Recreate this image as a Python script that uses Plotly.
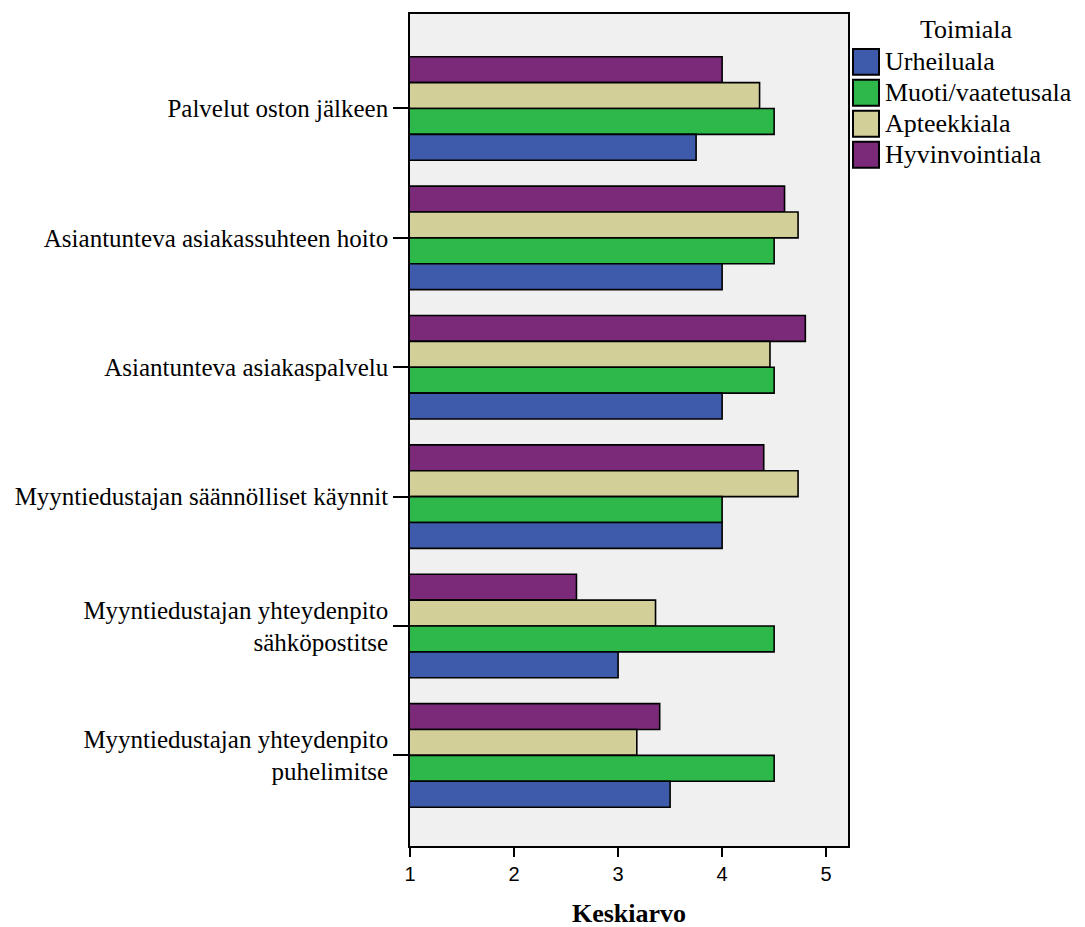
import plotly.graph_objects as go

categories = [
    "Palvelut oston jälkeen",
    "Asiantunteva asiakassuhteen hoito",
    "Asiantunteva asiakaspalvelu",
    "Myyntiedustajan säännölliset käynnit",
    "Myyntiedustajan yhteydenpito<br>sähköpostitse",
    "Myyntiedustajan yhteydenpito<br>puhelimitse",
]
urheiluala = [3.75, 4.0, 4.0, 4.0, 3.0, 3.5]
muoti = [4.5, 4.5, 4.5, 4.0, 4.5, 4.5]
apteekkiala = [4.36, 4.73, 4.46, 4.73, 3.36, 3.18]
hyvinvointiala = [4.0, 4.6, 4.8, 4.4, 2.6, 3.4]
x_ticks = [1, 2, 3, 4, 5]
legend_title = "Toimiala"

# drawn top-to-bottom within a group: Hyvinvointiala ... Urheiluala
series = [
    ("Hyvinvointiala", hyvinvointiala, "#7B2A7A"),
    ("Apteekkiala", apteekkiala, "#D3CF98"),
    ("Muoti/vaatetusala", muoti, "#2EB84A"),
    ("Urheiluala", urheiluala, "#3E5BAB"),
]

SERIF = "Liberation Serif"
# the page body has an 8px default margin; compensate so the plot area
# lands at x 410..848, y 12..846 in the screenshot
OFF = 8
W, H = 1085, 927
PX0, PX1, PY0, PY1 = 410, 848, 12, 846


def px(x):
    return (x - PX0) / (PX1 - PX0)


def py(y):
    return (PY1 - y) / (PY1 - PY0)


fig = go.Figure()
for name, vals, col in series:
    fig.add_trace(go.Bar(
        y=categories, x=vals, name=name, orientation="h",
        marker=dict(color=col, line=dict(color="black", width=1.6)),
    ))

# manual legend (large swatches like the original)
shapes = []
annotations = []
legend_items = list(reversed(series))
for i, (name, vals, col) in enumerate(legend_items):
    cy = 60 + 31 * i
    shapes.append(dict(
        type="rect", xref="paper", yref="paper",
        x0=px(853), x1=px(879), y0=py(cy - 13), y1=py(cy + 13),
        fillcolor=col, line=dict(color="black", width=2),
    ))
    annotations.append(dict(
        xref="paper", yref="paper", x=px(883), y=py(cy),
        xanchor="left", yanchor="middle", text=name, showarrow=False,
        font=dict(family=SERIF, size=26, color="black"),
    ))
annotations.append(dict(
    xref="paper", yref="paper", x=px(966), y=py(28),
    xanchor="center", yanchor="middle", text=legend_title, showarrow=False,
    font=dict(family=SERIF, size=26, color="black"),
))

fig.update_layout(
    width=W, height=H,
    barmode="group", bargap=0.2, bargroupgap=0,
    paper_bgcolor="white", plot_bgcolor="#F0F0F0",
    margin=dict(l=PX0 - OFF, r=W - PX1 + OFF, t=PY0 - OFF, b=H - PY1 + OFF),
    font=dict(family=SERIF, size=25, color="black"),
    showlegend=False,
    shapes=shapes,
    annotations=annotations,
)
fig.update_xaxes(
    range=[1, 5.21], tickvals=x_ticks, ticks="outside", ticklen=9, tickwidth=2,
    tickcolor="black", showline=True, linecolor="black", linewidth=1.6, mirror=True,
    showgrid=False, zeroline=False,
    tickfont=dict(family="Liberation Sans", size=20),
    title=dict(text="<b>Keskiarvo</b>", font=dict(family=SERIF, size=26), standoff=20),
)
fig.update_yaxes(
    type="category", categoryorder="array", categoryarray=categories,
    range=[5.7, -0.73], ticks="outside", ticklen=15, tickwidth=2, tickcolor="black",
    showline=True, linecolor="black", linewidth=1.6, mirror=True, showgrid=False,
    tickfont=dict(family=SERIF, size=25),
)
fig.write_html("out.html")
